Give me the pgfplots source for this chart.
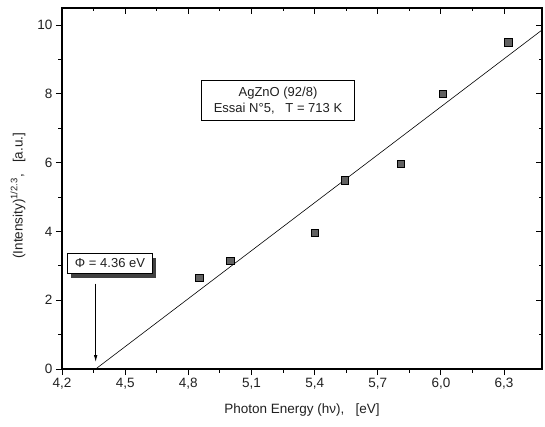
\documentclass[border=0pt]{standalone}
\usepackage{fontspec}
\setmainfont{Liberation Sans}
\usepackage{pgfplots}
\pgfplotsset{compat=1.18}
\usetikzlibrary{arrows.meta}
\definecolor{ink}{HTML}{202020}

\begin{document}
\begin{tikzpicture}[x=1pt,y=1pt]
\useasboundingbox (-62,-57) rectangle (483,369);
% main axis: bottom/left ticks pointing outward
\begin{axis}[
  at={(0,0)}, anchor=south west,
  scale only axis, width=480pt, height=361pt,
  xmin=4.2, xmax=6.48, ymin=0, ymax=10.5,
  xtick={4.2,4.5,4.8,5.1,5.4,5.7,6.0,6.3},
  ytick={0,2,4,6,8,10},
  minor x tick num=1, minor y tick num=1,
  xtick pos=left, ytick pos=left,
  tick align=outside,
  major tick length=6pt, minor tick length=3.5pt,
  axis line style={line width=1.5pt, black},
  tick style={line width=1pt, black},
  every tick label/.append style={font=\fontsize{13.5}{15}\selectfont, text=ink},
  /pgf/number format/assume math mode=true,
  xticklabel style={/pgf/number format/.cd, fixed, fixed zerofill, precision=1, use comma},
  xlabel={Photon Energy (hν),\ \ \ [eV]},
  ylabel={(Intensity)\textsuperscript{1/2.3},\ \ \ [a.u.]},
  label style={font=\fontsize{13.5}{15}\selectfont, text=ink},
  xlabel style={at={(axis description cs:0.5,-0.1136)}, anchor=center},
  ylabel style={at={(axis description cs:-0.0917,0.48)}, anchor=center},
  clip=false,
]
% linear fit, extrapolated to zero intensity
\addplot[black, line width=0.6pt] coordinates {(4.36,0) (6.48,9.86)};
% measured points
\addplot[only marks, mark=square*, mark size=3.7pt,
  mark options={fill=black!62, draw=black, line width=0.8pt}]
  coordinates {
  (4.852,2.65) (5.00,3.14) (5.40,3.95) (5.545,5.49)
  (5.81,5.96) (6.01,8.00) (6.32,9.50)};

\node[draw=black, line width=0.9pt, fill=white, align=center,
  minimum width=153pt, minimum height=40pt, inner sep=3pt,
  font=\fontsize{13}{16}\selectfont, text=ink]
  at (axis cs:5.226,7.82) {AgZnO (92/8)\\Essai N°5,\ \ \ T = 713 K};

% boxed threshold value with its shadow
\node[fill=black!75, minimum width=85pt, minimum height=20pt, inner sep=0pt,
  xshift=3.5pt, yshift=-4.5pt] at (axis cs:4.428,3.08) {};
\node[draw=black, line width=1pt, fill=white,
  minimum width=85pt, minimum height=20pt, inner sep=2pt,
  font=\fontsize{13}{14}\selectfont, text=ink]
  at (axis cs:4.428,3.08) {Φ = 4.36 eV};

\draw[-{Latex[length=7pt,width=3.5pt]}, line width=0.8pt, black]
  (axis cs:4.36,2.48) -- (axis cs:4.36,0.2);
\end{axis}
% top/right ticks pointing inward
\begin{axis}[
  at={(0,0)}, anchor=south west,
  scale only axis, width=480pt, height=361pt,
  xmin=4.2, xmax=6.48, ymin=0, ymax=10.5,
  xtick={4.2,4.5,4.8,5.1,5.4,5.7,6.0,6.3},
  ytick={0,2,4,6,8,10},
  minor x tick num=1, minor y tick num=1,
  xtick pos=right, ytick pos=right,
  tick align=inside,
  major tick length=6pt, minor tick length=3.5pt,
  axis line style={line width=1.5pt, black},
  tick style={line width=1pt, black},
  xticklabels={}, yticklabels={},
]
\end{axis}
\end{tikzpicture}
\end{document}
